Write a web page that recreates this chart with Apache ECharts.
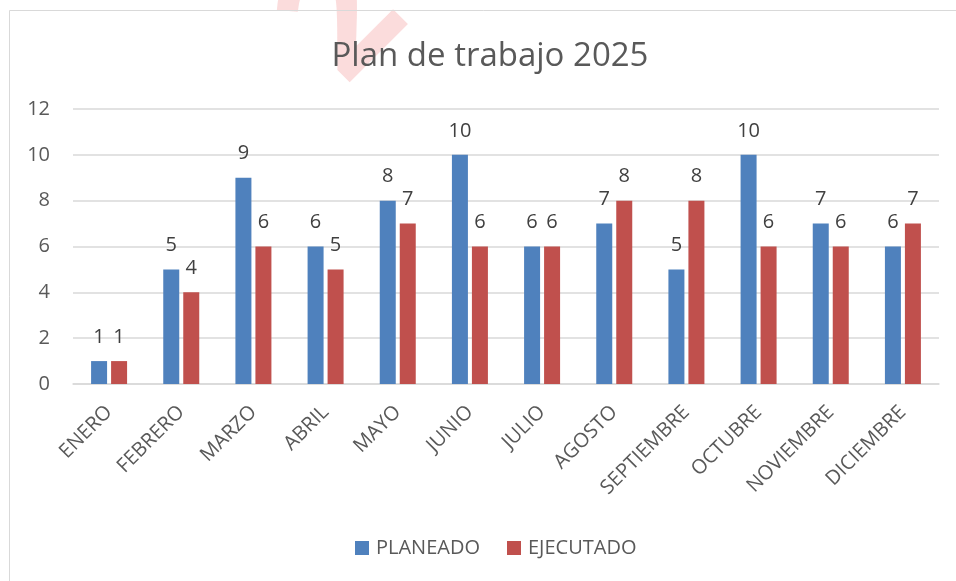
<!DOCTYPE html>
<html>
<head>
<meta charset="utf-8">
<script src="https://cdn.jsdelivr.net/npm/echarts@6/dist/echarts.min.js"></script>
<style>
html,body{margin:0;padding:0;background:#fff;}
#chart{width:956px;height:581px;}
</style>
</head>
<body>
<div id="chart"></div>
<script>
const categories = ['ENERO','FEBRERO','MARZO','ABRIL','MAYO','JUNIO','JULIO','AGOSTO','SEPTIEMBRE','OCTUBRE','NOVIEMBRE','DICIEMBRE'];
const planeado = [1,5,9,6,8,10,6,7,5,10,7,6];
const ejecutado = [1,4,6,5,7,6,6,8,8,6,6,7];
const seriesNames = ['PLANEADO','EJECUTADO'];
const titleText = 'Plan de trabajo 2025';

const FONT = '"Open Sans", sans-serif';
const chart = echarts.init(document.getElementById('chart'));
const labelStyle = {show:true, position:'top', distance:14, color:'#404040', fontSize:20, fontFamily:FONT};
chart.setOption({
  animation:false,
  backgroundColor:'#fff',
  graphic:[
    {type:'text', x:370, y:112, rotation:Math.PI*0.25, z:-10,
     style:{text:'2', fontSize:165, fontWeight:'bold', fontFamily:FONT, fill:'rgba(240,120,120,0.26)', textAlign:'left', textVerticalAlign:'bottom'}},
    {type:'rect', shape:{x:9.5,y:10.5,width:1000,height:1000}, z:-5,
     style:{fill:'none', stroke:'#d9d9d9', lineWidth:1}}
  ],
  title:{text:titleText, left:485, top:35, textAlign:'center',
    textStyle:{fontSize:33, fontWeight:'normal', color:'#595959', fontFamily:FONT}},
  legend:{data:seriesNames, left:350, top:533, itemWidth:14, itemHeight:14, itemGap:27, icon:'rect',
    textStyle:{fontSize:20, color:'#595959', fontFamily:FONT, padding:[0,0,0,2]}},
  grid:{left:73, right:17, top:109, bottom:197, containLabel:false},
  xAxis:{type:'category', data:categories,
    axisLine:{lineStyle:{color:'#d9d9d9', width:1.5}},
    axisTick:{show:false},
    axisLabel:{rotate:45, interval:0, margin:25, color:'#595959', fontSize:20, fontFamily:FONT}},
  yAxis:{type:'value', min:0, max:12, interval:2,
    axisLine:{show:false}, axisTick:{show:false},
    splitLine:{lineStyle:{color:'#d9d9d9', width:1.5}},
    axisLabel:{margin:23, color:'#595959', fontSize:20, fontFamily:FONT}},
  series:[
    {name:seriesNames[0], type:'bar', data:planeado, barWidth:16, barGap:'25%',
     itemStyle:{color:'#4f81bd'}, label:labelStyle},
    {name:seriesNames[1], type:'bar', data:ejecutado, barWidth:16, barGap:'25%',
     itemStyle:{color:'#c0504d'}, label:labelStyle}
  ]
});
</script>
</body>
</html>
